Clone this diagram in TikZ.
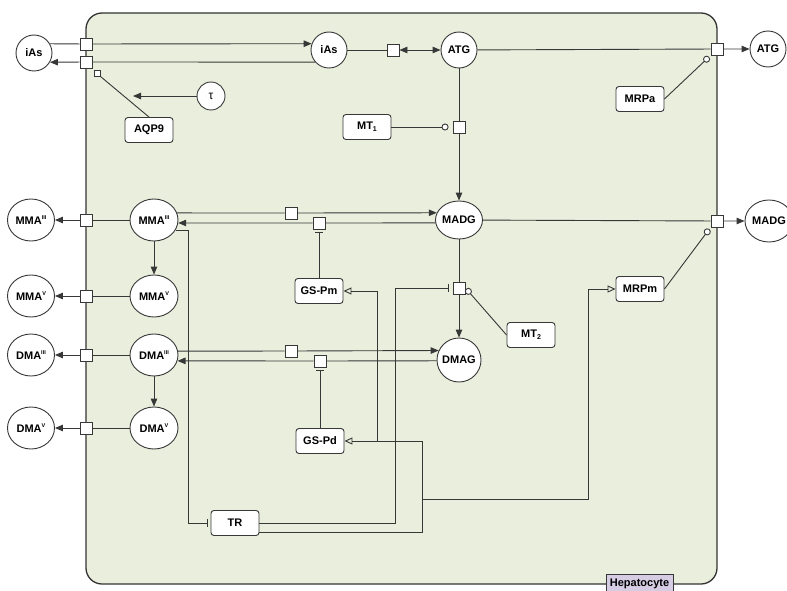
\documentclass[tikz,border=0pt]{standalone}
\usepackage{fontspec}
\setmainfont{Liberation Sans}
\usetikzlibrary{shapes.geometric,arrows.meta}
\definecolor{lc}{RGB}{55,55,55}
\definecolor{cellfill}{RGB}{234,238,221}
\definecolor{lav}{RGB}{214,204,228}
\newcommand\supr[1]{\raisebox{0.85ex}{\fontsize{5.5}{6}\selectfont #1}}
\newcommand\subn[1]{\raisebox{-0.35ex}{\fontsize{7}{7}\selectfont #1}}
\newcommand\ctr[1]{\makebox[0pt]{#1}}
\begin{document}
\begin{tikzpicture}[x=1pt,y=-1pt,
  lbl/.style={font=\fontsize{11}{13}\selectfont\bfseries, text=black},
  ent/.style={lbl, ellipse, draw=lc, line width=0.9pt, fill=white, inner sep=0pt, minimum width=48, minimum height=42},
  circ/.style={lbl, circle, draw=lc, line width=0.9pt, fill=white, inner sep=0pt, minimum size=36},
  prot/.style={lbl, rectangle, rounded corners=3pt, draw=lc, line width=0.9pt, fill=white, inner sep=0pt, minimum width=48, minimum height=25},
  sqr/.style={rectangle, draw=lc, line width=0.9pt, fill=white, inner sep=0pt, minimum size=12},
  lnk/.style={draw=lc, line width=0.9pt},
  arw/.style={lnk, -{Triangle[length=8pt,width=6.5pt]}},
  barw/.style={lnk, {Triangle[length=8pt,width=6.5pt]}-{Triangle[length=8pt,width=6.5pt]}},
  actv/.style={lnk, -{Triangle[open,length=8pt,width=7pt]}},
  inhb/.style={lnk, -{Bar[width=8pt]}, shorten >=3pt},
  modl/.style={lnk, -{Circle[length=7pt,fill=white]}},
  cellbox/.style={rectangle, rounded corners=16pt, draw=black!80, line width=1.3pt, fill=cellfill, minimum width=631, minimum height=571, inner sep=0pt},
  tag/.style={lbl, rectangle, draw=lc, line width=0.9pt, fill=lav, inner sep=0pt, minimum width=67, minimum height=20}
]
\useasboundingbox (0,0) rectangle (787,591);
\clip (0,0) rectangle (787,591);
\node[cellbox] (cell) at (401.5,298.5) {};
\node[tag] (hep) at (639.5,584) {Hepatocyte};

% nodes
\node[circ] (iAsOut) at (34,53) {\ctr{iAs}};
\node[sqr] (sq1) at (86,44) {};
\node[sqr] (sq2) at (86,62) {};
\node[sqr, minimum size=6] (sq0) at (97,73) {};
\node[circ] (iAsIn) at (329,50) {\ctr{iAs}};
\node[sqr] (s3) at (393,50) {};
\node[circ] (ATGin) at (459,50) {\ctr{ATG}};
\node[sqr] (s4) at (717,49) {};
\node[circ] (ATGout) at (768,49) {\ctr{ATG}};
\node[prot] (MRPa) at (640,99) {MRPa};
\node[circ, minimum size=28, font=\fontsize{12}{12}\selectfont] (tau) at (211,96) {τ};
\coordinate (tauT) at (133,96);
\node[prot] (AQP9) at (149,130) {AQP9};
\node[prot] (MT1) at (367,127) {MT\subn{1}};
\node[sqr] (s5) at (459,127) {};
\node[ent, minimum width=47, minimum height=38] (MADG) at (459,220) {\ctr{MADG}};
\node[sqr] (s7) at (717,221) {};
\node[ent] (MADGout) at (769,221) {\ctr{MADG}};
\node[ent] (MMA3in) at (154,220) {\ctr{MMA\supr{III}}};
\node[ent, minimum width=47] (MMA3out) at (31,220) {\ctr{MMA\supr{III}}};
\node[sqr] (sE) at (86,220) {};
\node[sqr] (sA) at (291,213) {};
\node[sqr] (sB) at (319,223) {};
\node[prot] (GSPm) at (319,291) {GS-Pm};
\node[ent] (MMA5in) at (154,296) {\ctr{MMA\supr{V}}};
\node[ent, minimum width=47] (MMA5out) at (31,296) {\ctr{MMA\supr{V}}};
\node[sqr] (sF) at (86,296) {};
\node[sqr] (s6) at (459,288) {};
\node[prot] (MT2) at (531,335) {MT\subn{2}};
\node[prot] (MRPm) at (640,289) {MRPm};
\node[ent] (DMA3in) at (154,355) {\ctr{DMA\supr{III}}};
\node[ent, minimum width=47] (DMA3out) at (31,355) {\ctr{DMA\supr{III}}};
\node[sqr] (sG) at (86,355) {};
\node[sqr] (sC) at (291,351) {};
\node[sqr] (sD) at (320,361) {};
\node[circ, minimum size=44] (DMAG) at (459,360) {\ctr{DMAG}};
\node[prot] (GSPd) at (320,441) {GS-Pd};
\node[ent] (DMA5in) at (154,428) {\ctr{DMA\supr{V}}};
\node[ent, minimum width=47] (DMA5out) at (31,428) {\ctr{DMA\supr{V}}};
\node[sqr] (sH) at (86,428) {};
\node[prot] (TR) at (235,523) {TR};
\coordinate (cA) at (422,441);
\coordinate (cB) at (377,441);
\coordinate (cC) at (422,499);
\coordinate (cD) at (588,289);
\coordinate (cE) at (395,523);
\coordinate (cF) at (188,523);

% connectors
\draw[arw] (iAsOut.30) -- (sq1) -- (iAsIn.160.5);
\draw[arw] (iAsIn.221.8) -- (sq2) -- (iAsOut.-30);
\draw[lnk] (AQP9.north) -- (sq0.south east);
\draw[arw] (tau) -- (tauT);
\draw[barw] (iAsIn) -- (s3) -- (ATGin);
\draw[arw] (ATGin) -- (s4) -- (ATGout);
\draw[modl, shorten >=2pt] (MRPa.east) -- (s4.south west);
\draw[arw] (ATGin) -- (s5) -- (MADG);
\draw[modl, shorten >=4pt] (MT1) -- (s5);
\draw[arw] (MADG) -- (s7) -- (MADGout);
\draw[modl, shorten >=2pt] (MRPm.east) -- (s7.south west);
\draw[arw] (MMA3in.17.2) -- (sA) -- (MADG.162.2);
\draw[arw] (MADG.187.4) -- (sB) -- (MMA3in.-7.2);
\draw[inhb] (GSPm) -- (sB);
\draw[arw] (MMA3in) -- (sE) -- (MMA3out);
\draw[arw] (MMA3in) -- (MMA5in);
\draw[arw] (MMA5in) -- (sF) -- (MMA5out);
\draw[arw] (MADG) -- (s6) -- (DMAG);
\draw[modl, shorten >=1pt] (MT2.west) -- (s6.east);
\draw[arw] (DMA3in.9.6) -- (sC) -- (DMAG.155.9);
\draw[arw] (DMAG.182.6) -- (sD) -- (DMA3in.-14.6);
\draw[inhb] (GSPd) -- (sD);
\draw[arw] (DMA3in) -- (sG) -- (DMA3out);
\draw[arw] (DMA3in) -- (DMA5in);
\draw[arw] (DMA5in) -- (sH) -- (DMA5out);
\draw[inhb] (MMA3in.-25.4) -| (cF) -- (TR.west);
\draw[inhb, shorten >=4pt] (TR.east) -- (cE) |- (s6.west);
\draw[actv] (TR.-22.6) -| (cA) -- (GSPd.east);
\draw[actv] (cB) |- (GSPm.east);
\draw[actv] (cC) -| (cD) -- (MRPm.west);
\end{tikzpicture}
\end{document}
